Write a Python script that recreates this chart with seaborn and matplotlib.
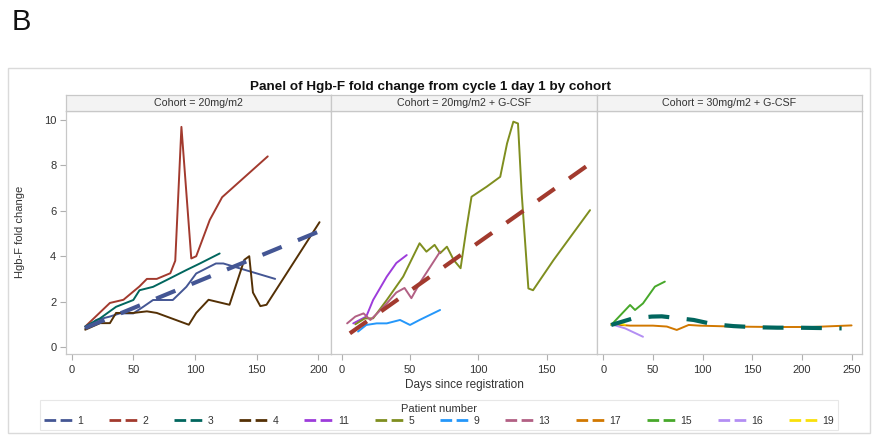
import matplotlib
matplotlib.use("Agg")
import matplotlib.pyplot as plt
from matplotlib.lines import Line2D
from matplotlib.patches import Rectangle
import pandas as pd
import seaborn as sns

# ---------------------------------------------------------------- data
cohorts = ["20mg/m2", "20mg/m2 + G-CSF", "30mg/m2 + G-CSF"]
legend_order = ["1", "2", "3", "4", "11", "5", "9", "13", "17", "15", "16", "19"]
patient_colors = ["#445694", "#A23A2E", "#01665E", "#543005", "#9D3CDB", "#7F8E1F",
                  "#2597FA", "#B26084", "#D17800", "#47A82A", "#B38EF3", "#F9E00B"]

# Cohort 20mg/m2
p1_day = [11, 20, 31, 39, 50, 58, 66, 82, 93, 101, 117, 123, 165]
p1_fold = [0.82, 1.19, 1.34, 1.48, 1.48, 1.77, 2.07, 2.07, 2.65, 3.24, 3.68, 3.68, 3.0]
p2_day = [11, 31, 42, 55, 61, 69, 80, 84, 89, 97, 101, 112, 122, 159]
p2_fold = [0.9, 1.94, 2.08, 2.67, 3.0, 3.0, 3.25, 3.8, 9.7, 3.9, 4.0, 5.6, 6.6, 8.4]
p3_day = [11, 23, 36, 50, 55, 66, 77, 93, 104, 120]
p3_fold = [0.9, 1.26, 1.77, 2.07, 2.5, 2.65, 2.95, 3.39, 3.68, 4.12]
p4_day = [11, 23, 31, 36, 50, 61, 69, 95, 101, 111, 128, 140, 144, 147, 153, 158, 201]
p4_fold = [0.76, 1.05, 1.05, 1.5, 1.5, 1.57, 1.5, 0.98, 1.5, 2.08, 1.86, 3.84, 4.0, 2.4,
           1.8, 1.86, 5.5]

# Cohort 20mg/m2 + G-CSF
p11_day = [8.5, 18, 23, 33, 40, 47.6]
p11_fold = [1.04, 1.34, 2.07, 3.1, 3.7, 4.05]
p5_day = [10, 17, 23, 33, 45, 57, 62, 68, 72, 77, 82, 87, 91.5, 95, 106, 116, 121,
          125.6, 129, 131.7, 136.6, 140, 155, 181.7]
p5_fold = [1.0, 1.26, 1.26, 2.07, 3.1, 4.57, 4.2, 4.5, 4.13, 4.42, 3.83, 3.47, 5.3,
           6.62, 7.06, 7.5, 8.97, 9.93, 9.85, 6.77, 2.58, 2.5, 3.83, 6.03]
p9_day = [12, 18, 25.6, 33, 42.7, 50, 57, 72]
p9_fold = [0.68, 0.97, 1.04, 1.04, 1.19, 0.97, 1.19, 1.63]
p13_day = [4, 10, 16, 21, 26, 33, 40, 46, 51, 58, 72]
p13_fold = [1.04, 1.34, 1.48, 1.19, 1.48, 1.92, 2.4, 2.6, 2.15, 2.9, 4.2]

# Cohort 30mg/m2 + G-CSF
p17_day = [8, 27, 50, 64, 74, 86, 97, 130, 170, 210, 250]
p17_fold = [1.0, 0.94, 0.94, 0.9, 0.75, 0.97, 0.94, 0.9, 0.88, 0.88, 0.95]
p15_day = [8, 27, 32, 40, 52, 62]
p15_fold = [0.97, 1.85, 1.63, 1.92, 2.66, 2.88]
p16_day = [8, 22, 40]
p16_fold = [1.0, 0.82, 0.45]
p19_day = [8, 15, 22]
p19_fold = [1.0, 1.05, 0.98]

# Cohort trend lines
trend20_day = [11, 201]
trend20_fold = [0.84, 5.1]
trend20g_day = [6, 182]
trend20g_fold = [0.6, 8.09]
trend30g_day = [8, 30, 49, 59, 69, 91, 111, 131, 153, 175, 195, 240]
trend30g_fold = [0.97, 1.26, 1.34, 1.35, 1.30, 1.19, 1.0, 0.92, 0.87, 0.85, 0.85, 0.82]

# ---------------------------------------------------------------- tables
series = [
    (cohorts[0], "1", p1_day, p1_fold), (cohorts[0], "2", p2_day, p2_fold),
    (cohorts[0], "3", p3_day, p3_fold), (cohorts[0], "4", p4_day, p4_fold),
    (cohorts[1], "11", p11_day, p11_fold), (cohorts[1], "5", p5_day, p5_fold),
    (cohorts[1], "9", p9_day, p9_fold), (cohorts[1], "13", p13_day, p13_fold),
    (cohorts[2], "17", p17_day, p17_fold), (cohorts[2], "15", p15_day, p15_fold),
    (cohorts[2], "16", p16_day, p16_fold), (cohorts[2], "19", p19_day, p19_fold),
]
rows = []
for cohort, pid, days, folds in series:
    for d, f in zip(days, folds):
        rows.append({"Cohort": cohort, "Patient": pid, "Day": d, "Fold": f})
df = pd.DataFrame(rows)

trend_rows = []
for cohort, days, folds in [(cohorts[0], trend20_day, trend20_fold),
                            (cohorts[1], trend20g_day, trend20g_fold),
                            (cohorts[2], trend30g_day, trend30g_fold)]:
    for d, f in zip(days, folds):
        trend_rows.append({"Cohort": cohort, "Day": d, "Fold": f})
trend_df = pd.DataFrame(trend_rows)

palette = dict(zip(legend_order, patient_colors))
trend_colors = [patient_colors[0], patient_colors[1], patient_colors[2]]

# ---------------------------------------------------------------- style
sns.set_theme(style="white")
plt.rcParams["font.family"] = ["Liberation Sans", "DejaVu Sans"]

W, H = 880.0, 438.0
fig = plt.figure(figsize=(W / 100, H / 100), dpi=100)
fig.patch.set_facecolor("white")


def fx(px):
    return px / W


def fy(py):
    return 1 - py / H


frame_col = "#c8c8c8"
text_col = "#333333"
panel_edges = [(66, 331), (331, 597), (597, 862)]
xlims = [(-4.6, 210.3), (-7.8, 186.8), (-6.3, 260.5)]
xticks = [[0, 50, 100, 150, 200], [0, 50, 100, 150], [0, 50, 100, 150, 200, 250]]
plot_top, plot_bot, head_top = 111, 354, 95

# outer frame of the graph
fig.add_artist(Rectangle((fx(8), fy(433)), fx(870) - fx(8), (433 - 68) / H,
                         transform=fig.transFigure, fill=False,
                         edgecolor="#dadada", linewidth=1.0))

for i, cohort in enumerate(cohorts):
    x0, x1 = panel_edges[i]
    ax = fig.add_axes([fx(x0), fy(plot_bot), (x1 - x0) / W, (plot_bot - plot_top) / H])
    sub = df[df["Cohort"] == cohort]
    sns.lineplot(data=sub, x="Day", y="Fold", hue="Patient", palette=palette,
                 estimator=None, sort=False, linewidth=1.4, legend=False, ax=ax)
    tsub = trend_df[trend_df["Cohort"] == cohort]
    sns.lineplot(data=tsub, x="Day", y="Fold", color=trend_colors[i],
                 estimator=None, sort=False, linewidth=3.0, legend=False, ax=ax)
    ax.lines[-1].set_dashes((5, 4.2))
    ax.lines[-1].set_dash_capstyle("butt")

    ax.set_xlim(*xlims[i])
    ax.set_ylim(-0.31, 10.4)
    ax.set_xticks(xticks[i])
    ax.set_xlabel("")
    ax.set_ylabel("")
    for s in ax.spines.values():
        s.set_color(frame_col)
        s.set_linewidth(0.9)
    ax.tick_params(axis="x", direction="out", length=4, width=0.8, color="#b0b0b0",
                   labelsize=8, labelcolor=text_col, pad=4, bottom=True)
    if i == 0:
        ax.set_yticks([0, 2, 4, 6, 8, 10])
        ax.tick_params(axis="y", direction="out", length=4, width=0.8, color="#b0b0b0",
                       labelsize=8, labelcolor=text_col, pad=3, left=True)
    else:
        ax.tick_params(axis="y", left=False, labelleft=False)

    hax = fig.add_axes([fx(x0), fy(plot_top), (x1 - x0) / W, (plot_top - head_top) / H])
    hax.set_facecolor("#f3f3f3")
    hax.set_xticks([])
    hax.set_yticks([])
    for s in hax.spines.values():
        s.set_color(frame_col)
        s.set_linewidth(0.9)
    hax.text(0.5, 0.5, f"Cohort = {cohort}", ha="center", va="center",
             fontsize=7.7, color=text_col, transform=hax.transAxes)

fig.text(fx(12), fy(22), "B", fontsize=21, ha="left", va="center", color="#111111")
fig.text(fx(430), fy(87), "Panel of Hgb-F fold change from cycle 1 day 1 by cohort",
         ha="center", va="center", fontsize=9.7, fontweight="bold", color="#111111")
fig.text(fx(20), fy(232), "Hgb-F fold change", rotation=90, ha="center", va="center",
         fontsize=8, color=text_col)
fig.text(fx(464), fy(385), "Days since registration", ha="center", va="center",
         fontsize=8.5, color=text_col)

handles = [Line2D([0], [0], color=c, linewidth=2.0, dashes=(4.2, 1.6))
           for c in patient_colors]
leg = fig.legend(handles, legend_order, loc="center", bbox_to_anchor=(fx(439), fy(415)),
                 ncol=12, title="Patient number", frameon=True, fancybox=False,
                 fontsize=7.5, title_fontsize=8, handlelength=2.7, handletextpad=0.5,
                 columnspacing=2.5, borderpad=0.35, labelspacing=0.2)
leg.get_frame().set_edgecolor("#e2e2e2")
leg.get_frame().set_linewidth(0.8)
for t in leg.get_texts():
    t.set_color(text_col)
leg.get_title().set_color(text_col)

fig.savefig("out.png", dpi=100, facecolor="white")
